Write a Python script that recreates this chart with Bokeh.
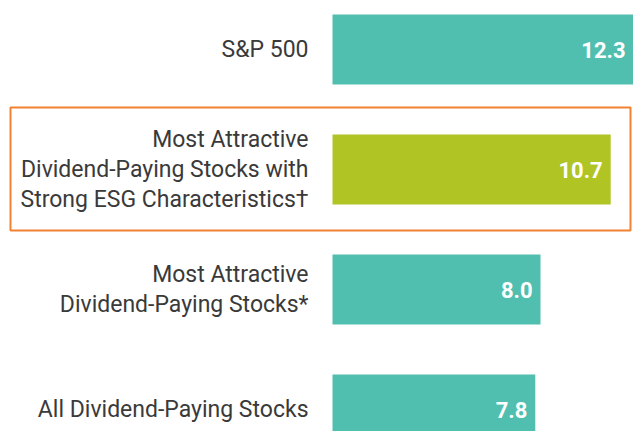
from bokeh.plotting import figure
from bokeh.models import ColumnDataSource, Range1d
from bokeh.core.properties import value
from bokeh.embed import file_html
from bokeh.resources import INLINE

categories = [
    "S&P 500",
    "Most Attractive\nDividend-Paying Stocks with\nStrong ESG Characteristics\u2020",
    "Most Attractive\nDividend-Paying Stocks*",
    "All Dividend-Paying Stocks",
]
values = [12.3, 10.7, 8.0, 7.8]
value_labels = ["12.3", "10.7", "8.0", "7.8"]
bar_colors = ["#50bfaf", "#b0c424", "#50bfaf", "#50bfaf"]
highlight = 1  # index of the highlighted category

n = len(categories)
ypos = [n - 1 - i for i in range(n)]

W, H = 633, 431
px_per_unit_x = 26.0
zero_px = 332.0
top_gap = 49.0
row_px = 120.0
x_end = (W - zero_px) / px_per_unit_x

p = figure(width=W, height=H, output_backend="svg", toolbar_location=None,
           x_range=Range1d(-zero_px / px_per_unit_x, x_end),
           y_range=Range1d((n - 1) + top_gap / row_px - H / row_px, (n - 1) + top_gap / row_px),
           min_border=0, outline_line_color=None)
p.axis.visible = False
p.grid.visible = False
p.background_fill_color = "white"
p.border_fill_color = "white"

label_x = [min(v, x_end) for v in values]
src = ColumnDataSource(dict(y=ypos, v=values, c=bar_colors, cat=categories,
                            lab=value_labels, lx=label_x))

# highlight box around the highlighted row
hy = ypos[highlight]
bx0 = (10 - zero_px) / px_per_unit_x
bx1 = (630 - zero_px) / px_per_unit_x
p.rect(x=[(bx0 + bx1) / 2], y=[hy + 0.004], width=[bx1 - bx0], height=[123 / row_px],
       fill_color=None, line_color="#f08232", line_width=2)

p.hbar(y="y", left=0, right="v", height=70 / row_px, fill_color="c",
       line_color=None, source=src)

p.text(x=0, y="y", text="cat", source=src, x_offset=-24,
       text_align="right", text_baseline="middle",
       text_font=value("Roboto"), text_font_size="23px",
       text_color="#3a3a3a", text_line_height=1.1)

p.text(x="lx", y="y", text="lab", source=src, x_offset=-8,
       text_align="right", text_baseline="middle",
       text_font=value("Roboto"), text_font_style="bold",
       text_font_size="22px", text_color="white")

open("out.html", "w").write(file_html(p, INLINE))
